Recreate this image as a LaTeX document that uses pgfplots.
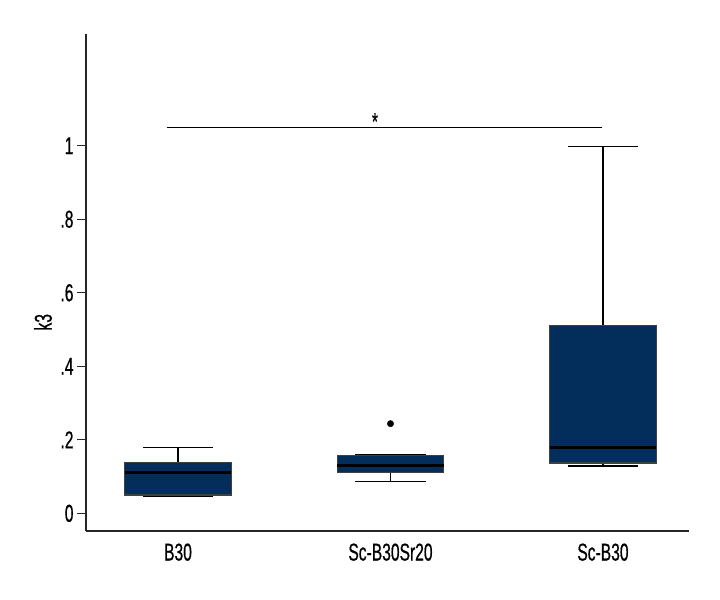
\documentclass[border=0pt]{standalone}
\usepackage{pgfplots}
\pgfplotsset{compat=1.18}
\usepgfplotslibrary{statistics}
\usepackage{fontspec}
\setmainfont{Liberation Sans}[FakeStretch=0.64, FakeBold=0.6]
\definecolor{boxnavy}{HTML}{032D5A}

\begin{document}
\begin{tikzpicture}
\useasboundingbox (0,0) rectangle (720bp,600bp);
\begin{axis}[
    at={(86bp,69bp)}, anchor=south west,
    scale only axis, width=603bp, height=497bp,
    xmin=0.567, xmax=3.405, ymin=-0.048, ymax=1.304,
    axis x line*=bottom, axis y line*=left,
    axis line style={black!85, line width=1.5bp, -},
    xtick={1,2,3}, xticklabels={B30,Sc-B30Sr20,Sc-B30},
    xtick style={draw=none},
    ytick={0,0.2,0.4,0.6,0.8,1}, yticklabels={0,.2,.4,.6,.8,1},
    ytick style={black!85, line width=1.2bp},
    tick align=outside, major tick length=9bp,
    tick label style={font=\fontsize{24.5}{28}\selectfont},
    /pgf/number format/assume math mode=true,
    ylabel={k3},
    ylabel style={font=\fontsize{24.5}{28}\selectfont, at={(axis description cs:-0.0713,0.42)}, anchor=center},
    boxplot/draw direction=y,
    boxplot/box extend=0.5,
    boxplot/whisker extend=0.33,
    boxplot/every box/.style={fill=boxnavy, draw=black!75, line width=1.1bp},
    boxplot/every median/.style={black, line width=3bp},
    boxplot/every whisker/.style={black, line width=1.3bp},
    clip=false,
]
% B30
\addplot[black, mark=*, mark size=3.2bp, mark options={fill=black},
  boxplot prepared={draw position=1, lower whisker=0.046, lower quartile=0.05,
    median=0.11, upper quartile=0.138, upper whisker=0.18}]
  coordinates {};
% Sc-B30Sr20 (one outlier)
\addplot[black, mark=*, mark size=3.2bp, mark options={fill=black},
  boxplot prepared={draw position=2, lower whisker=0.086, lower quartile=0.112,
    median=0.129, upper quartile=0.157, upper whisker=0.159}]
  coordinates {(2,0.244)};
% Sc-B30
\addplot[black, mark=*, mark size=3.2bp, mark options={fill=black},
  boxplot prepared={draw position=3, lower whisker=0.129, lower quartile=0.137,
    median=0.18, upper quartile=0.512, upper whisker=0.998}]
  coordinates {};
% significance bar
\addplot[black, line width=1.5bp, no marks] coordinates {(0.947,1.05) (2.994,1.05)};
\node[font=\fontsize{24}{26}\selectfont] at (axis cs:1.927,1.066) {*};
\end{axis}
\end{tikzpicture}
\end{document}
